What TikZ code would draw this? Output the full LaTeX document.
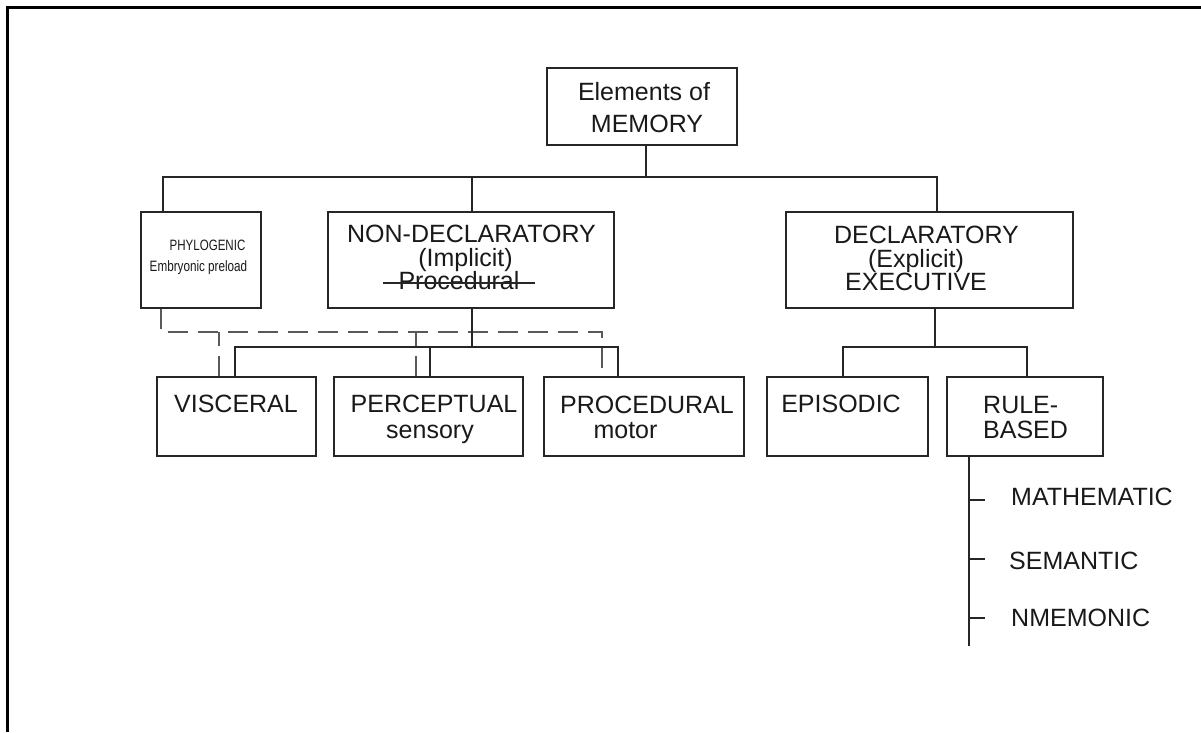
\documentclass[tikz,border=0pt]{standalone}
\usepackage{fontspec}
\setmainfont{Liberation Sans}
\begin{document}
\begin{tikzpicture}[x=1pt,y=-1pt,
  box/.style={draw=black!85, line width=1.3pt, inner sep=0pt, rectangle},
  txt/.style={inner sep=0pt, font=\fontsize{25}{25}\selectfont, anchor=base, text=black!90},
  smalltxt/.style={inner sep=0pt, font=\fontsize{15}{15}\selectfont, anchor=base, text=black!90},
  conn/.style={draw=black!85, line width=1.3pt},
  dconn/.style={draw=black!65, line width=1.6pt, dash pattern=on 20pt off 10pt},
  frameline/.style={draw=black, line width=3pt},
]
\useasboundingbox (0,0) rectangle (1201,732);
% frame
\draw[frameline] (7.5,732) -- (7.5,7.5) -- (1201,7.5);

% boxes
\node[box, minimum width=190, minimum height=77] (elem) at (642,106.5) {};
\node[box, minimum width=120, minimum height=96] (phy)  at (201,260) {};
\node[box, minimum width=286, minimum height=96] (nond) at (471,260) {};
\node[box, minimum width=287, minimum height=96] (decl) at (929.5,260) {};
\node[box, minimum width=159, minimum height=79] (visc) at (236.5,416.5) {};
\node[box, minimum width=189, minimum height=79] (perc) at (428.5,416.5) {};
\node[box, minimum width=200, minimum height=79] (proc) at (644,416.5) {};
\node[box, minimum width=161, minimum height=79] (epi)  at (847.5,416.5) {};
\node[box, minimum width=156, minimum height=79] (rule) at (1025,416.5) {};

% texts
\node[txt] (t1) at (644,100) {Elements of};
\node[txt] (t2) at (647,132) {MEMORY};
\node[smalltxt] (t3) at (207.5,250) {\scalebox{0.77}[1]{PHYLOGENIC}};
\node[smalltxt] (t4) at (198.5,271) {\scalebox{0.78}[1]{Embryonic preload}};
\node[txt] (t5) at (471.5,242) {NON-DECLARATORY};
\node[txt] (t6) at (465.5,266) {(Implicit)};
\node[txt, inner xsep=15pt] (t7) at (459,289) {Procedural};
\draw[conn] ([yshift=6]t7.base west) -- ([yshift=6]t7.base east);
\node[txt] (t8) at (926.5,243) {DECLARATORY};
\node[txt] (t9) at (916,267) {(Explicit)};
\node[txt] (t10) at (916,290) {EXECUTIVE};
\node[txt] (t11) at (236,412) {VISCERAL};
\node[txt] (t12) at (434,412) {PERCEPTUAL};
\node[txt] (t13) at (430,438) {sensory};
\node[txt] (t14) at (647,413) {PROCEDURAL};
\node[txt] (t15) at (625.5,438) {motor};
\node[txt] (t16) at (841,412) {EPISODIC};
\node[txt, anchor=base west] (t17) at (983,413) {RULE-};
\node[txt, anchor=base west] (t18) at (983,438) {BASED};
\node[txt, anchor=base west] (math) at (1011,505) {MATHEMATIC};
\node[txt, anchor=base west] (sem)  at (1009,569) {SEMANTIC};
\node[txt, anchor=base west] (nme)  at (1011,626) {NMEMONIC};

% top tree
\coordinate (bus) at (646,177);
\draw[conn] ([xshift=4]elem.south) -- (bus);
\draw[conn] ([xshift=-38]phy.north) |- (bus) -| ([xshift=7.5]decl.north);
\draw[conn] ([xshift=1]nond.north) -- ([xshift=1]nond.north |- bus);

% dashed (phylogenic)
\coordinate (dbus) at (400,332);
\draw[dconn] ([xshift=-40]phy.south) |- (dbus) -| ([xshift=-42]proc.north);
\draw[dconn] ([xshift=-17.5]visc.north) -- ([xshift=-17.5]visc.north |- dbus);
\draw[dconn] ([xshift=-12.5]perc.north) -- ([xshift=-12.5]perc.north |- dbus);

% non-declaratory subtree
\coordinate (ndbus) at (472,347);
\draw[conn] ([xshift=1]nond.south) -- ([xshift=1]nond.south |- ndbus);
\draw[conn] ([xshift=-1.5]visc.north) |- (ndbus) -| ([xshift=-26]proc.north);
\draw[conn] ([xshift=1.5]perc.north) -- ([xshift=1.5]perc.north |- ndbus);

% declarative subtree
\coordinate (dcbus) at (935,347);
\draw[conn] ([xshift=5.5]decl.south) -- (dcbus);
\draw[conn] ([xshift=-4.5]epi.north) |- (dcbus) -| ([xshift=2]rule.north);

% rule-based list
\coordinate (vl) at ([xshift=-56]rule.south);
\coordinate (vlend) at ([yshift=-189]vl);
\draw[conn] (vl) -- (vlend);
\draw[conn] (vl |- 0,500) -- ++(16,0);
\draw[conn] (vl |- 0,559) -- ++(16,0);
\draw[conn] (vl |- 0,618) -- ++(16,0);
\end{tikzpicture}
\end{document}
